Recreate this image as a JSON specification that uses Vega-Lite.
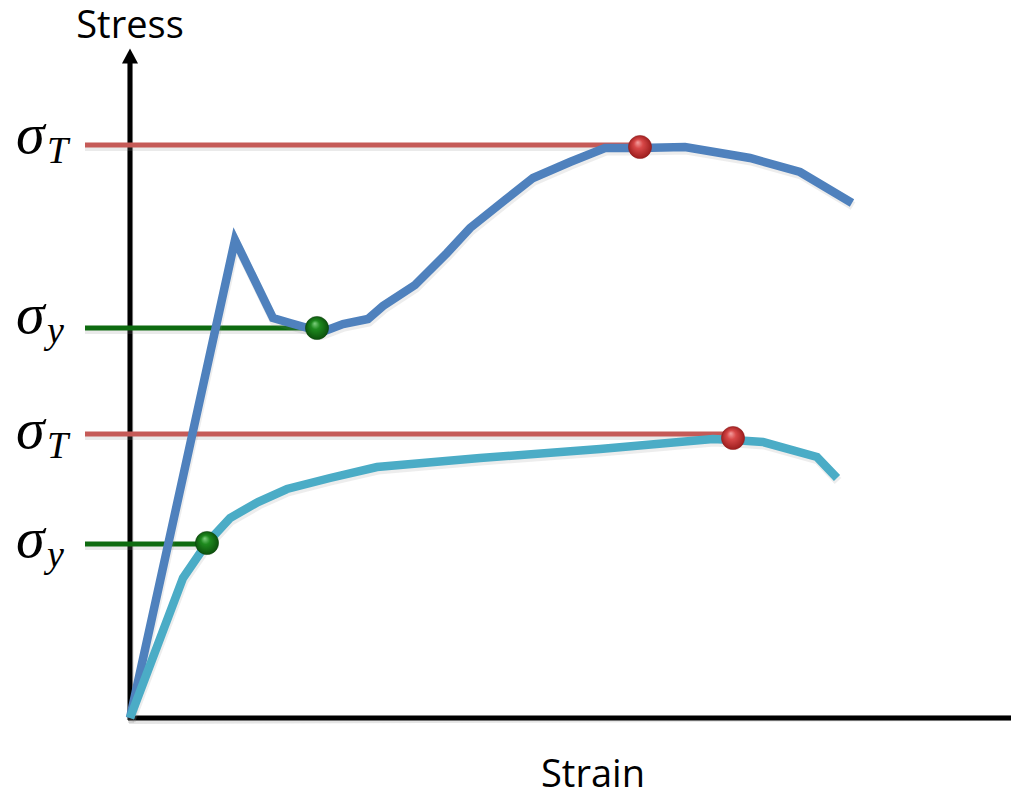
{
  "$schema": "https://vega.github.io/schema/vega-lite/v6.json",
  "width": 1011,
  "height": 795,
  "padding": 0,
  "autosize": {"type": "none"},
  "config": {"view": {"stroke": null}},
  "datasets": {
    "curves": [
      {"material": "A", "strain": 0, "stress": 0},
      {"material": "A", "strain": 105, "stress": 478},
      {"material": "A", "strain": 143, "stress": 400},
      {"material": "A", "strain": 160, "stress": 395},
      {"material": "A", "strain": 192, "stress": 386},
      {"material": "A", "strain": 213, "stress": 394},
      {"material": "A", "strain": 238, "stress": 399},
      {"material": "A", "strain": 253, "stress": 412},
      {"material": "A", "strain": 285, "stress": 433},
      {"material": "A", "strain": 317, "stress": 465},
      {"material": "A", "strain": 340, "stress": 490},
      {"material": "A", "strain": 375, "stress": 518},
      {"material": "A", "strain": 403, "stress": 540},
      {"material": "A", "strain": 440, "stress": 556},
      {"material": "A", "strain": 475, "stress": 570},
      {"material": "A", "strain": 510, "stress": 570},
      {"material": "A", "strain": 555, "stress": 571},
      {"material": "A", "strain": 620, "stress": 560},
      {"material": "A", "strain": 670, "stress": 546},
      {"material": "A", "strain": 722, "stress": 515},
      {"material": "B", "strain": 0, "stress": 0},
      {"material": "B", "strain": 53, "stress": 140},
      {"material": "B", "strain": 77, "stress": 175},
      {"material": "B", "strain": 100, "stress": 200},
      {"material": "B", "strain": 128, "stress": 216},
      {"material": "B", "strain": 157, "stress": 229},
      {"material": "B", "strain": 200, "stress": 240},
      {"material": "B", "strain": 247, "stress": 251},
      {"material": "B", "strain": 350, "stress": 260},
      {"material": "B", "strain": 470, "stress": 269},
      {"material": "B", "strain": 583, "stress": 279},
      {"material": "B", "strain": 603, "stress": 278},
      {"material": "B", "strain": 633, "stress": 276},
      {"material": "B", "strain": 687, "stress": 261},
      {"material": "B", "strain": 707, "stress": 240}
    ],
    "levels": [
      {"kind": "tensile", "material": "A", "stress": 573, "from": -45, "to": 510, "ballStrain": 510, "ballStress": 571, "sub": "T", "labelStress": 565},
      {"kind": "yield", "material": "A", "stress": 390, "from": -45, "to": 187, "ballStrain": 187, "ballStress": 390, "sub": "y", "labelStress": 385},
      {"kind": "tensile", "material": "B", "stress": 284, "from": -45, "to": 603, "ballStrain": 603, "ballStress": 280, "sub": "T", "labelStress": 270},
      {"kind": "yield", "material": "B", "stress": 174, "from": -45, "to": 77, "ballStrain": 77, "ballStress": 175, "sub": "y", "labelStress": 161}
    ],
    "axes": [
      {"axis": "stress", "x1": 0, "x2": 0, "y1": -2, "y2": 656},
      {"axis": "strain", "x1": -2, "x2": 881, "y1": 0, "y2": 0}
    ],
    "titles": [
      {"text": "Stress", "strain": 0, "stress": 680},
      {"text": "Strain", "strain": 463, "stress": -69}
    ]
  },
  "data": {"name": "curves"},
  "layer": [
    {
      "data": {"name": "axes"},
      "mark": {"type": "rule", "color": "#999999", "strokeWidth": 6, "opacity": 0.25, "yOffset": 3, "xOffset": 1},
      "encoding": {
        "x": {"field": "x1", "type": "quantitative", "scale": {"domain": [-130, 881], "nice": false, "zero": false}, "axis": null},
        "x2": {"field": "x2"},
        "y": {"field": "y1", "type": "quantitative", "scale": {"domain": [-77, 718], "nice": false, "zero": false}, "axis": null},
        "y2": {"field": "y2"}
      }
    },
    {
      "data": {"name": "axes"},
      "mark": {"type": "rule", "color": "black", "strokeWidth": 5},
      "encoding": {
        "x": {"field": "x1", "type": "quantitative"},
        "x2": {"field": "x2"},
        "y": {"field": "y1", "type": "quantitative"},
        "y2": {"field": "y2"}
      }
    },
    {
      "data": {"values": [{"strain": 0, "stress": 662}]},
      "mark": {"type": "point", "shape": "M0,-1L1.07,1L-1.07,1Z", "size": 225, "filled": true, "color": "black", "opacity": 1},
      "encoding": {
        "x": {"field": "strain", "type": "quantitative"},
        "y": {"field": "stress", "type": "quantitative"}
      }
    },
    {
      "data": {"name": "levels"},
      "mark": {"type": "rule", "strokeWidth": 6, "color": "#888888", "opacity": 0.18, "yOffset": 3},
      "encoding": {
        "x": {"field": "from", "type": "quantitative"},
        "x2": {"field": "to"},
        "y": {"field": "stress", "type": "quantitative"}
      }
    },
    {
      "data": {"name": "levels"},
      "mark": {"type": "rule", "strokeWidth": 5},
      "encoding": {
        "x": {"field": "from", "type": "quantitative"},
        "x2": {"field": "to"},
        "y": {"field": "stress", "type": "quantitative"},
        "color": {"field": "kind", "type": "nominal", "scale": {"domain": ["tensile", "yield"], "range": ["#c55a57", "#0e6b10"]}, "legend": null}
      }
    },
    {
      "mark": {"type": "line", "strokeWidth": 9, "strokeJoin": "miter", "strokeCap": "butt", "color": "#888888", "opacity": 0.15, "yOffset": 3, "xOffset": 1},
      "encoding": {
        "x": {"field": "strain", "type": "quantitative"},
        "y": {"field": "stress", "type": "quantitative"},
        "order": {"field": "strain", "type": "quantitative"},
        "detail": {"field": "material", "type": "nominal"}
      }
    },
    {
      "mark": {"type": "line", "strokeWidth": 8.5, "strokeJoin": "miter", "strokeCap": "butt"},
      "encoding": {
        "x": {"field": "strain", "type": "quantitative"},
        "y": {"field": "stress", "type": "quantitative"},
        "order": {"field": "strain", "type": "quantitative"},
        "stroke": {"field": "material", "type": "nominal", "scale": {"domain": ["A", "B"], "range": ["#4f81bd", "#4bacc6"]}, "legend": null}
      }
    },
    {
      "data": {"name": "levels"},
      "transform": [{"filter": "datum.kind === 'tensile'"}],
      "mark": {"type": "circle", "size": 540, "opacity": 1, "stroke": "#8a1a1a", "strokeWidth": 0.5,
        "fill": {"gradient": "radial", "x1": 0.4, "y1": 0.3, "r1": 0.0, "x2": 0.5, "y2": 0.5, "r2": 0.55,
          "stops": [{"offset": 0, "color": "#f4a0a0"}, {"offset": 0.35, "color": "#d84848"}, {"offset": 1, "color": "#951818"}]}},
      "encoding": {
        "x": {"field": "ballStrain", "type": "quantitative"},
        "y": {"field": "ballStress", "type": "quantitative"}
      }
    },
    {
      "data": {"name": "levels"},
      "transform": [{"filter": "datum.kind === 'yield'"}],
      "mark": {"type": "circle", "size": 540, "opacity": 1, "stroke": "#0a3f0a", "strokeWidth": 0.5,
        "fill": {"gradient": "radial", "x1": 0.4, "y1": 0.3, "r1": 0.0, "x2": 0.5, "y2": 0.5, "r2": 0.55,
          "stops": [{"offset": 0, "color": "#7fd07f"}, {"offset": 0.35, "color": "#1e8a1e"}, {"offset": 1, "color": "#0a4a0a"}]}},
      "encoding": {
        "x": {"field": "ballStrain", "type": "quantitative"},
        "y": {"field": "ballStress", "type": "quantitative"}
      }
    },
    {
      "data": {"name": "titles"},
      "mark": {"type": "text", "font": "Open Sans", "fontSize": 38, "align": "center", "baseline": "alphabetic", "color": "black"},
      "encoding": {
        "x": {"field": "strain", "type": "quantitative"},
        "y": {"field": "stress", "type": "quantitative"},
        "text": {"field": "text"}
      }
    },
    {
      "data": {"name": "levels"},
      "mark": {"type": "text", "font": "Liberation Serif", "fontStyle": "italic", "fontSize": 58, "align": "left", "baseline": "alphabetic", "color": "black", "text": "σ"},
      "encoding": {
        "x": {"datum": -114, "type": "quantitative"},
        "y": {"field": "labelStress", "type": "quantitative"}
      }
    },
    {
      "data": {"name": "levels"},
      "mark": {"type": "text", "font": "Liberation Serif", "fontStyle": "italic", "fontSize": 38, "align": "left", "baseline": "alphabetic", "color": "black", "dx": 31, "dy": 10},
      "encoding": {
        "x": {"datum": -114, "type": "quantitative"},
        "y": {"field": "labelStress", "type": "quantitative"},
        "text": {"field": "sub"}
      }
    }
  ]
}
